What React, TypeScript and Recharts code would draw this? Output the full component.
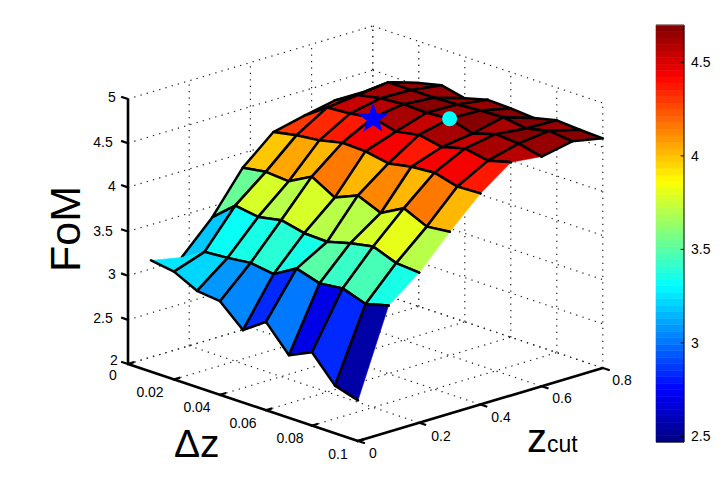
import { ComposedChart, Scatter, XAxis, YAxis, ReferenceLine, ReferenceArea } from 'recharts';

const WIDTH = 726;
const HEIGHT = 491;

const dzValues = [0.01, 0.02, 0.03, 0.04, 0.05, 0.06, 0.07, 0.08, 0.09, 0.1];
const zcutValues = [0, 0.1, 0.2, 0.3, 0.4, 0.5, 0.6, 0.7, 0.8];

// FoM per zcut row, left to right along dz
const fomRow0 = [3.26, 3.22, 3.09, 3.06, 2.82, 3.0, 2.71, 2.83, 2.54, 2.46];
const fomRow1 = [3.19, 3.34, 3.36, 3.39, 3.35, 3.5, 3.42, 3.45, 3.36, 3.43];
const fomRow2 = [3.54, 3.76, 3.72, 3.77, 3.71, 3.7, 3.77, 3.82, 3.72, 3.7];
const fomRow3 = [4.0, 4.04, 4.02, 4.16, 4.01, 4.12, 4.01, 4.15, 4.03, 4.06];
const fomRow4 = [4.3, 4.35, 4.38, 4.44, 4.43, 4.38, 4.43, 4.45, 4.38, 4.39];
const fomRow5 = [4.38, 4.56, 4.58, 4.62, 4.55, 4.6, 4.55, 4.62, 4.57, 4.64];
const fomRow6 = [4.45, 4.6, 4.65, 4.67, 4.66, 4.68, 4.6, 4.68, 4.66, 4.6];
const fomRow7 = [4.45, 4.64, 4.64, 4.64, 4.65, 4.67, 4.68, 4.64, 4.7, 4.67];
const fomRow8 = [4.4, 4.53, 4.59, 4.53, 4.6, 4.59, 4.57, 4.63, 4.61, 4.6];
const fomRows = [fomRow0, fomRow1, fomRow2, fomRow3, fomRow4, fomRow5, fomRow6, fomRow7, fomRow8];

const dzTicks = [0, 0.02, 0.04, 0.06, 0.08, 0.1];
const zcutTicks = [0, 0.2, 0.4, 0.6, 0.8];
const fomTicks = [2, 2.5, 3, 3.5, 4, 4.5, 5];
const colorbarTicks = [2.5, 3, 3.5, 4, 4.5];

const COLOR_MIN = 2.47;
const COLOR_MAX = 4.7;
const COLOR_STEP = (COLOR_MAX - COLOR_MIN) / 64;
const colorBands = Array.from({ length: 64 }, (_, k) => COLOR_MIN + k * COLOR_STEP);

// orthographic view of the box
const project = (dz: number, zcut: number, fom: number) => ({
  x: 128 + dz * 2300 + zcut * 306,
  y: 364 + dz * 770 - zcut * 91.25 - (fom - 2) * 88.33,
});

const jet = (value: number) => {
  const t = Math.min(1, Math.max(0, (value - COLOR_MIN) / (COLOR_MAX - COLOR_MIN)));
  const band = Math.min(63, Math.floor(t * 64));
  const s = (band + 0.5) / 64;
  const ramp = (c: number) => Math.round(255 * Math.min(1, Math.max(0, 1.5 - Math.abs(4 * s - c))));
  return `rgb(${ramp(3)},${ramp(2)},${ramp(1)})`;
};

// back cells first so the nearer ones paint over them
const cells: any[] = [];
for (let j = zcutValues.length - 2; j >= 0; j--) {
  for (let i = 0; i < dzValues.length - 1; i++) {
    const corners = [
      project(dzValues[i], zcutValues[j], fomRows[j][i]),
      project(dzValues[i + 1], zcutValues[j], fomRows[j][i + 1]),
      project(dzValues[i + 1], zcutValues[j + 1], fomRows[j + 1][i + 1]),
      project(dzValues[i], zcutValues[j + 1], fomRows[j + 1][i]),
    ];
    // some rims of the mesh carry no black edge in the original
    const skip = [
      i === 0 && j === 1,
      i === dzValues.length - 2 && j <= 5,
      i === 0 && j === 0,
      i === 0 && j === 0,
    ];
    cells.push({ x: corners[0].x, y: corners[0].y, corners, skip, fill: jet(fomRows[j][i]) });
  }
}

const CellShape = (props: any) => {
  const { cx, cy, payload } = props;
  const pts = payload.corners.map((c: any) => ({ x: cx + c.x - payload.x, y: cy + c.y - payload.y }));
  const edges = pts
    .map((p: any, k: number) => {
      if (payload.skip[k]) return '';
      const q = pts[(k + 1) % 4];
      return `M${p.x},${p.y}L${q.x},${q.y}`;
    })
    .join('');
  return (
    <g>
      <polygon points={pts.map((p: any) => `${p.x},${p.y}`).join(' ')} fill={payload.fill} stroke={payload.fill} strokeWidth={0.6} />
      <path d={edges} fill="none" stroke="#000" strokeWidth={2.5} strokeLinecap="round" />
    </g>
  );
};

const starPoint = [project(0.04, 0.5, 4.61)];
const circlePoint = [project(0.06, 0.6, 4.68)];

const StarShape = (props: any) => {
  const { cx, cy } = props;
  const pts = [];
  for (let k = 0; k < 10; k++) {
    const r = k % 2 === 0 ? 16 : 6.5;
    const a = -Math.PI / 2 + (k * Math.PI) / 5;
    pts.push(`${cx + r * Math.cos(a)},${cy + r * Math.sin(a)}`);
  }
  return <polygon points={pts.join(' ')} fill="#0000ff" />;
};

const CircleShape = (props: any) => <circle cx={props.cx} cy={props.cy} r={7.5} fill="#00ffff" />;

// walls and floor
const DZ_MAX = 0.1;
const ZCUT_MAX = 0.8;
const FOM_MIN = 2;
const FOM_MAX = 5;

const gridSegments = [
  ...dzTicks.map((d) => [project(d, 0, FOM_MIN), project(d, ZCUT_MAX, FOM_MIN)]),
  ...zcutTicks.map((c) => [project(0, c, FOM_MIN), project(DZ_MAX, c, FOM_MIN)]),
  ...zcutTicks.map((c) => [project(0, c, FOM_MIN), project(0, c, FOM_MAX)]),
  ...dzTicks.map((d) => [project(d, ZCUT_MAX, FOM_MIN), project(d, ZCUT_MAX, FOM_MAX)]),
  ...fomTicks.map((f) => [project(0, 0, f), project(0, ZCUT_MAX, f)]),
  ...fomTicks.map((f) => [project(0, ZCUT_MAX, f), project(DZ_MAX, ZCUT_MAX, f)]),
];

const axisSegments = [
  [project(0, 0, FOM_MIN), project(0, 0, FOM_MAX)],
  [project(0, 0, FOM_MIN), project(DZ_MAX, 0, FOM_MIN)],
  [project(DZ_MAX, 0, FOM_MIN), project(DZ_MAX, ZCUT_MAX, FOM_MIN)],
];

const tickSegments = [
  ...dzTicks.map((d) => [project(d, -0.004, FOM_MIN), project(d, 0.02, FOM_MIN)]),
  ...zcutTicks.map((c) => [project(DZ_MAX, c, FOM_MIN), project(DZ_MAX + 0.003, c, FOM_MIN)]),
  ...fomTicks.map((f) => [project(0, 0, f), project(-0.003, 0, f)]),
];

const textLabels = [
  { x: 112, y: 97, text: '5' },
  { x: 103, y: 142, text: '4.5' },
  { x: 112, y: 186, text: '4' },
  { x: 103, y: 231, text: '3.5' },
  { x: 112, y: 274, text: '3' },
  { x: 103, y: 318, text: '2.5' },
  { x: 114, y: 360, text: '2' },
  { x: 113, y: 375, text: '0' },
  { x: 150, y: 392, text: '0.02' },
  { x: 197, y: 407, text: '0.04' },
  { x: 243, y: 423, text: '0.06' },
  { x: 290, y: 438, text: '0.08' },
  { x: 338, y: 454, text: '0.1' },
  { x: 373, y: 453, text: '0' },
  { x: 441, y: 436, text: '0.2' },
  { x: 501, y: 417, text: '0.4' },
  { x: 562, y: 398, text: '0.6' },
  { x: 622, y: 380, text: '0.8' },
];

const TextShape = (props: any) => (
  <text
    x={props.cx}
    y={props.cy}
    fontSize={14}
    fontFamily="Liberation Sans"
    textAnchor="middle"
    dominantBaseline="central"
    fill="#000"
  >
    {props.payload.text}
  </text>
);

const App = () => {
  return (
    <div style={{ position: 'absolute', left: 0, top: 0, width: WIDTH, height: HEIGHT, background: '#fff' }}>
      <div style={{ position: 'absolute', left: 0, top: 0 }}>
        <ComposedChart width={WIDTH} height={HEIGHT} margin={{ top: 0, right: 0, bottom: 0, left: 0 }}>
          <XAxis type="number" dataKey="x" domain={[0, WIDTH]} hide />
          <YAxis type="number" dataKey="y" domain={[0, HEIGHT]} reversed hide />
          {gridSegments.map((seg, k) => (
            <ReferenceLine
              key={`g${k}`}
              segment={seg as any}
              stroke="#222"
              strokeWidth={1.2}
              strokeDasharray="1.3 5.2"
            />
          ))}
          {axisSegments.map((seg, k) => (
            <ReferenceLine key={`a${k}`} segment={seg as any} stroke="#000" strokeWidth={2.6} />
          ))}
          {tickSegments.map((seg, k) => (
            <ReferenceLine key={`t${k}`} segment={seg as any} stroke="#000" strokeWidth={2.2} />
          ))}
          <Scatter data={cells} shape={<CellShape />} isAnimationActive={false} />
          <Scatter data={starPoint} shape={<StarShape />} isAnimationActive={false} />
          <Scatter data={circlePoint} shape={<CircleShape />} isAnimationActive={false} />
          <Scatter data={textLabels} shape={<TextShape />} isAnimationActive={false} />
          <Scatter
            data={[{ x: 80, y: 229 }]}
            shape={(p: any) => (
              <text
                transform={`translate(${p.cx},${p.cy}) rotate(-90)`}
                fontSize={43}
                fontFamily="Liberation Sans"
                textAnchor="middle"
              >
                FoM
              </text>
            )}
            isAnimationActive={false}
          />
          <Scatter
            data={[{ x: 174, y: 457 }]}
            shape={(p: any) => (
              <text x={p.cx} y={p.cy} fontSize={39} fontFamily="Liberation Sans">
                Δz
              </text>
            )}
            isAnimationActive={false}
          />
          <Scatter
            data={[{ x: 527, y: 452 }]}
            shape={(p: any) => (
              <text x={p.cx} y={p.cy} fontFamily="Liberation Sans">
                <tspan fontSize={40}>z</tspan>
                <tspan fontSize={23}>cut</tspan>
              </text>
            )}
            isAnimationActive={false}
          />
        </ComposedChart>
      </div>
      <div style={{ position: 'absolute', left: 640, top: 15 }}>
        <ComposedChart width={86} height={437} margin={{ top: 10, right: 0, bottom: 10, left: 16 }}>
          <XAxis type="number" dataKey="x" domain={[0, 1]} hide />
          <YAxis
            type="number"
            dataKey="v"
            orientation="right"
            domain={[COLOR_MIN, COLOR_MAX]}
            ticks={colorbarTicks}
            tickFormatter={(v: number) => String(v)}
            width={42}
            axisLine={false}
            tickLine={false}
            tickMargin={1}
            interval={0}
            allowDataOverflow
            tick={{ fill: '#000', fontSize: 14, fontFamily: 'Liberation Sans' }}
          />
          {colorBands.map((low) => (
            <ReferenceArea
              key={low}
              x1={0}
              x2={1}
              y1={low}
              y2={Math.min(COLOR_MAX, low + COLOR_STEP)}
              fill={jet(low + COLOR_STEP / 2)}
              fillOpacity={1}
              stroke={jet(low + COLOR_STEP / 2)}
              strokeWidth={0.6}
              ifOverflow="extendDomain"
            />
          ))}
          <ReferenceLine segment={[{ x: 1, y: COLOR_MIN }, { x: 1, y: COLOR_MAX }]} stroke="#000" strokeWidth={1} />
          <ReferenceLine segment={[{ x: 0, y: COLOR_MIN }, { x: 1, y: COLOR_MIN }]} stroke="#000" strokeWidth={1} />
          <ReferenceLine segment={[{ x: 0, y: COLOR_MAX }, { x: 1, y: COLOR_MAX }]} stroke="#666" strokeWidth={1} />
          {colorbarTicks.map((v) => (
            <ReferenceLine key={v} segment={[{ x: 0.88, y: v }, { x: 1, y: v }]} stroke="#000" strokeWidth={1} />
          ))}
          <Scatter
            data={colorBands.map((v) => ({ x: 0.5, v }))}
            shape={() => <g />}
            isAnimationActive={false}
          />
        </ComposedChart>
      </div>
    </div>
  );
};

export default App;
